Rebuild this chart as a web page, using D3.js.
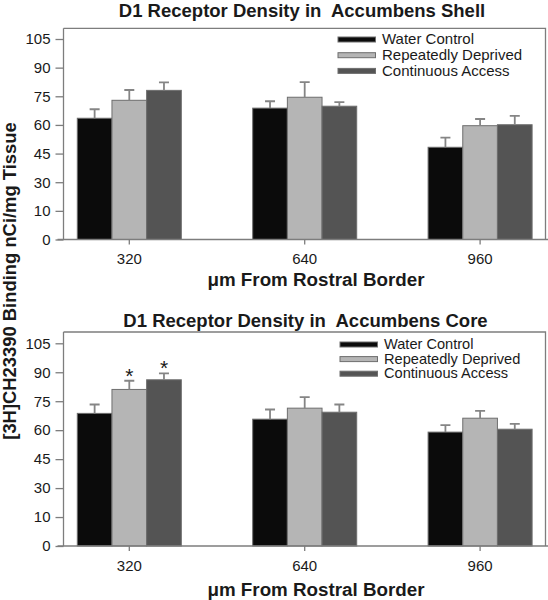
<!DOCTYPE html>
<html>
<head>
<meta charset="utf-8">
<script src="https://cdn.jsdelivr.net/npm/d3@7"></script>
<style>
  html, body { margin: 0; padding: 0; background: #fff; }
  svg { display: block; }
  text { font-family: "Liberation Sans", Arial, Helvetica, sans-serif; fill: #1a1a1a; white-space: pre; }
</style>
</head>
<body>
<svg id="chart" width="548" height="600"></svg>
<script>
// ---- Data ----
const categories = ["320", "640", "960"];
const seriesNames = ["Water Control", "Repeatedly Deprived", "Continuous Access"];
const seriesColors = ["#0b0b0b", "#b5b5b5", "#545454"];

const yTickValues = [0, 15, 30, 45, 60, 75, 90, 105];
const yTickLabels = ["0", "10", "30", "45", "60", "75", "90", "105"];

const shellTitle = "D1 Receptor Density in  Accumbens Shell";
const shellMeans = [
  [63.5, 68.8, 48.3],   // Water Control
  [72.9, 74.5, 59.6],   // Repeatedly Deprived
  [78.1, 69.8, 60.1]    // Continuous Access
];
const shellErrors = [
  [4.7, 3.6, 5.0],
  [5.4, 7.9, 3.5],
  [4.2, 2.1, 4.6]
];

const coreTitle = "D1 Receptor Density in  Accumbens Core";
const coreMeans = [
  [68.7, 65.7, 59.0],
  [81.1, 71.4, 66.2],
  [86.1, 69.3, 60.5]
];
const coreErrors = [
  [4.6, 5.0, 3.6],
  [4.5, 5.7, 3.8],
  [3.3, 4.0, 2.8]
];
// significance markers: [category, series]
const coreStars = [["320", 1], ["320", 2]];

const xLabel = "\u03bcm From Rostral Border";
const yLabel = "[3H]CH23390 Binding nCi/mg Tissue";

// ---- Drawing ----
const svg = d3.select("#chart");
const axisColor = "#7d7d7d";

function drawPanel(cfg) {
  const g = svg.append("g");
  const left = 63.5, right = 545.5;
  const y = d3.scaleLinear().domain([0, 105]).range([cfg.zeroY, cfg.topY]);
  const x0 = d3.scaleBand().domain(categories).range([41.6, 567.8])
    .paddingInner(0.407).paddingOuter(0.2035);
  const x1 = d3.scaleBand().domain(d3.range(seriesNames.length)).range([0, x0.bandwidth()]);

  // frame (top & right)
  g.append("path")
    .attr("d", `M${left},${cfg.frameTop}H${right}V${cfg.zeroY}`)
    .attr("fill", "none").attr("stroke", axisColor).attr("stroke-width", 1.3);

  // title
  g.append("text").attr("x", cfg.titleX).attr("y", cfg.titleY)
    .attr("text-anchor", "middle").attr("font-weight", "bold").attr("font-size", 18.5)
    .text(cfg.title);

  // bars
  const data = [];
  cfg.means.forEach((row, s) => row.forEach((v, c) => data.push({
    s, c: categories[c], v, e: cfg.errors[s][c]
  })));

  g.append("g").selectAll("rect").data(data).join("rect")
    .attr("x", d => x0(d.c) + x1(d.s))
    .attr("width", x1.bandwidth())
    .attr("y", d => y(d.v))
    .attr("height", d => y(0) - y(d.v))
    .attr("fill", d => seriesColors[d.s])
    .attr("stroke", "#6e6e6e").attr("stroke-width", 1);

  // error bars (upper only)
  const eb = g.append("g").attr("stroke", "#858585").attr("stroke-width", 1.8).attr("fill", "none");
  eb.selectAll("path").data(data).join("path")
    .attr("d", d => {
      const cx = x0(d.c) + x1(d.s) + x1.bandwidth() / 2;
      return `M${cx},${y(d.v)}V${y(d.v + d.e)}M${cx - 5},${y(d.v + d.e)}H${cx + 5}`;
    });

  // stars
  if (cfg.stars) {
    g.selectAll("text.star").data(cfg.stars).join("text").attr("class", "star")
      .attr("x", d => x0(d[0]) + x1(d[1]) + x1.bandwidth() / 2)
      .attr("y", d => {
        const s = d[1], c = categories.indexOf(d[0]);
        return y(cfg.means[s][c] + cfg.errors[s][c]) + 2;
      })
      .attr("text-anchor", "middle").attr("font-size", 21).text("*");
  }

  // y axis
  const yAxis = d3.axisLeft(y).tickValues(yTickValues)
    .tickFormat((d, i) => yTickLabels[i]).tickSize(8).tickPadding(5);
  const ya = g.append("g").attr("transform", `translate(${left},0)`).call(yAxis);
  ya.select(".domain").attr("d", `M0,${cfg.frameTop}V${cfg.zeroY}`).attr("stroke", axisColor).attr("stroke-width", 1.3);
  ya.selectAll(".tick line").attr("stroke", axisColor).attr("stroke-width", 1.3);
  ya.selectAll(".tick text").attr("font-size", 15).attr("fill", "#1a1a1a")
    .style("font-family", '"Liberation Sans", Arial, sans-serif');

  // x axis
  const xAxis = d3.axisBottom(x0).tickSize(5).tickPadding(9);
  const xa = g.append("g").attr("transform", `translate(0,${cfg.zeroY})`).call(xAxis);
  xa.select(".domain").attr("d", "M57.5,0H548").attr("stroke", axisColor).attr("stroke-width", 1.3);
  xa.selectAll(".tick line").attr("stroke", axisColor).attr("stroke-width", 1.3);
  xa.selectAll(".tick text").attr("font-size", 15).attr("fill", "#1a1a1a")
    .style("font-family", '"Liberation Sans", Arial, sans-serif');

  // x label
  g.append("text").attr("x", 316).attr("y", cfg.xLabelY)
    .attr("text-anchor", "middle").attr("font-weight", "bold").attr("font-size", 18.8)
    .text(xLabel);

  // legend
  const lg = g.append("g").attr("transform", `translate(${cfg.legendX},${cfg.legendY})`);
  seriesNames.forEach((name, i) => {
    const row = lg.append("g").attr("transform", `translate(0,${i * cfg.legendStep})`);
    row.append("rect").attr("x", 0).attr("y", -2.5).attr("width", 37.5).attr("height", 5)
      .attr("fill", seriesColors[i]).attr("stroke", "#6e6e6e").attr("stroke-width", 1);
    row.append("text").attr("x", 44).attr("y", 4.6).attr("font-size", cfg.legendFont).text(name);
  });
}

drawPanel({
  title: shellTitle, means: shellMeans, errors: shellErrors,
  zeroY: 239.5, topY: 39, frameTop: 28.3, titleX: 302, titleY: 17, xLabelY: 286,
  legendX: 338, legendY: 39.5, legendStep: 15.7, legendFont: 15
});
drawPanel({
  title: coreTitle, means: coreMeans, errors: coreErrors, stars: coreStars,
  zeroY: 546, topY: 343.3, frameTop: 332, titleX: 305.5, titleY: 327, xLabelY: 596,
  legendX: 340, legendY: 344.5, legendStep: 14.6, legendFont: 14.6
});

// shared y label
svg.append("text")
  .attr("transform", "translate(15.5,281) rotate(-90)")
  .attr("text-anchor", "middle").attr("font-weight", "bold").attr("font-size", 18.4)
  .text(yLabel);
</script>
</body>
</html>
